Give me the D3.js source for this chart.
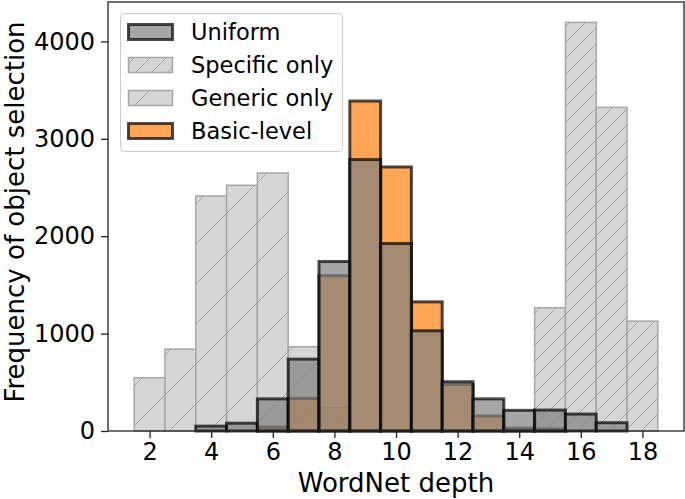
<!DOCTYPE html>
<html>
<head>
<meta charset="utf-8">
<script src="https://cdn.jsdelivr.net/npm/d3@7"></script>
<style>
  body { margin: 0; background: #fff; }
  text { font-family: "DejaVu Sans", sans-serif; }
</style>
</head>
<body>
<div id="chart"></div>
<script>
// Histogram counts per WordNet depth
const depths   = [2, 3, 4, 5, 6, 7, 8, 9, 10, 11, 12, 13, 14, 15, 16, 17, 18];
const generic  = [547, 841, 2413, 2523, 2649, 865, 240, 0, 0, 0, 0, 0, 0, 0, 0, 0, 0];
const specific = [0, 0, 0, 0, 0, 0, 0, 0, 0, 0, 0, 0, 0, 1265, 4195, 3323, 1128];
const basic    = [0, 0, 0, 0, 40, 335, 1595, 3388, 2711, 1326, 478, 154, 30, 20, 0, 0, 0];
const uniform  = [0, 0, 50, 80, 330, 738, 1740, 2787, 1925, 1029, 506, 330, 212, 215, 174, 85, 0];
const xTicks = [2, 4, 6, 8, 10, 12, 14, 16, 18];
const yTicks = [0, 1000, 2000, 3000, 4000];
const legendLabels = ["Uniform", "Specific only", "Generic only", "Basic-level"];

// Chart dimensions (plot box inside the 685x499 page)
const W = 685, H = 499;
const plotLeft = 108, plotRight = 684, plotTop = 2, plotBottom = 431;

const x = d3.scaleLinear()
    .domain([depths[0] - 0.5 - 0.85, depths[depths.length - 1] + 0.5 + 0.85])
    .range([plotLeft, plotRight]);

const yMax = d3.max([...generic, ...specific, ...basic, ...uniform]) * 1.05;
const y = d3.scaleLinear()
    .domain([0, yMax])
    .range([plotBottom, plotTop]);

const svg = d3.select("#chart")
  .append("svg")
    .attr("width", W)
    .attr("height", H);

// Hatch patterns: sparse for "Generic only", dense for "Specific only"
const defs = svg.append("defs");
function hatch(id, step) {
  const p = defs.append("pattern")
      .attr("id", id)
      .attr("patternUnits", "userSpaceOnUse")
      .attr("width", step)
      .attr("height", step);
  p.append("rect").attr("width", step).attr("height", step).attr("fill", "#d6d6d6");
  p.append("path")
      .attr("d", `M0,${step} L${step},0 M${-step / 2},${step / 2} L${step / 2},${-step / 2} M${step / 2},${step * 1.5} L${step * 1.5},${step / 2}`)
      .attr("stroke", "#a3a3a3")
      .attr("stroke-width", 1)
      .attr("fill", "none");
}
hatch("hatchGeneric", 40);
hatch("hatchSpecific", 16);

const barW = x(1) - x(0);

function drawBars(values, cls, style) {
  const data = depths.map((d, i) => ({ depth: d, value: values[i] })).filter(d => d.value > 0);
  svg.append("g")
      .attr("class", cls)
    .selectAll("rect")
    .data(data)
    .join("rect")
      .attr("x", d => x(d.depth - 0.5))
      .attr("y", d => y(d.value))
      .attr("width", barW)
      .attr("height", d => y(0) - y(d.value))
      .attr("fill", style.fill)
      .attr("fill-opacity", style.fillOpacity)
      .attr("stroke", style.stroke)
      .attr("stroke-opacity", style.strokeOpacity)
      .attr("stroke-width", style.strokeWidth);
}

const styles = {
  uniform:  { fill: "#808080", fillOpacity: 0.7, stroke: "#000", strokeOpacity: 0.7, strokeWidth: 3 },
  specific: { fill: "url(#hatchSpecific)", fillOpacity: 1, stroke: "#a6a6a6", strokeOpacity: 1, strokeWidth: 1.5 },
  generic:  { fill: "url(#hatchGeneric)", fillOpacity: 1, stroke: "#a6a6a6", strokeOpacity: 1, strokeWidth: 1.5 },
  basic:    { fill: "#ff7f0e", fillOpacity: 0.7, stroke: "#000", strokeOpacity: 0.7, strokeWidth: 3 }
};

drawBars(generic, "generic", styles.generic);
drawBars(specific, "specific", styles.specific);
drawBars(basic, "basic", styles.basic);
drawBars(uniform, "uniform", styles.uniform);

// Axes
const xAxis = svg.append("g")
    .attr("transform", `translate(0,${plotBottom})`)
    .call(d3.axisBottom(x).tickValues(xTicks).tickSize(7).tickSizeOuter(0).tickPadding(5));

const yAxis = svg.append("g")
    .attr("transform", `translate(${plotLeft},0)`)
    .call(d3.axisLeft(y).tickValues(yTicks).tickFormat(d3.format("d")).tickSize(7).tickSizeOuter(0).tickPadding(6));

[xAxis, yAxis].forEach(a => {
  a.selectAll("text").attr("font-size", 24).attr("fill", "#000").style("font-family", "DejaVu Sans");
  a.selectAll(".tick line").attr("stroke", "#222").attr("stroke-width", 1.3);
  a.select(".domain").remove();
});

// Spines
svg.append("rect")
    .attr("x", plotLeft)
    .attr("y", plotTop)
    .attr("width", plotRight - plotLeft)
    .attr("height", plotBottom - plotTop)
    .attr("fill", "none")
    .attr("stroke", "#222")
    .attr("stroke-width", 1.3);

// Axis labels
svg.append("text")
    .attr("x", (plotLeft + plotRight) / 2)
    .attr("y", 492)
    .attr("text-anchor", "middle")
    .attr("font-size", 26)
    .text("WordNet depth");

svg.append("text")
    .attr("transform", `translate(24,212) rotate(-90)`)
    .attr("text-anchor", "middle")
    .attr("font-size", 26)
    .text("Frequency of object selection");

// Legend
const legend = svg.append("g");
legend.append("rect")
    .attr("x", 120.5)
    .attr("y", 13.5)
    .attr("width", 222)
    .attr("height", 138)
    .attr("rx", 4)
    .attr("fill", "#fff")
    .attr("fill-opacity", 0.8)
    .attr("stroke", "#cccccc")
    .attr("stroke-width", 1);

const legendStyles = [styles.uniform, styles.specific, styles.generic, styles.basic];
const rowY = [32, 65, 98, 131];
legendLabels.forEach((label, i) => {
  const s = legendStyles[i];
  legend.append("rect")
      .attr("x", 128.5)
      .attr("y", rowY[i] - 7.5)
      .attr("width", 44)
      .attr("height", 15)
      .attr("fill", s.fill)
      .attr("fill-opacity", s.fillOpacity)
      .attr("stroke", s.stroke)
      .attr("stroke-opacity", s.strokeOpacity)
      .attr("stroke-width", s.strokeWidth);
  legend.append("text")
      .attr("x", 191)
      .attr("y", rowY[i] + 8)
      .attr("font-size", 22.5)
      .text(label);
});
</script>
</body>
</html>
